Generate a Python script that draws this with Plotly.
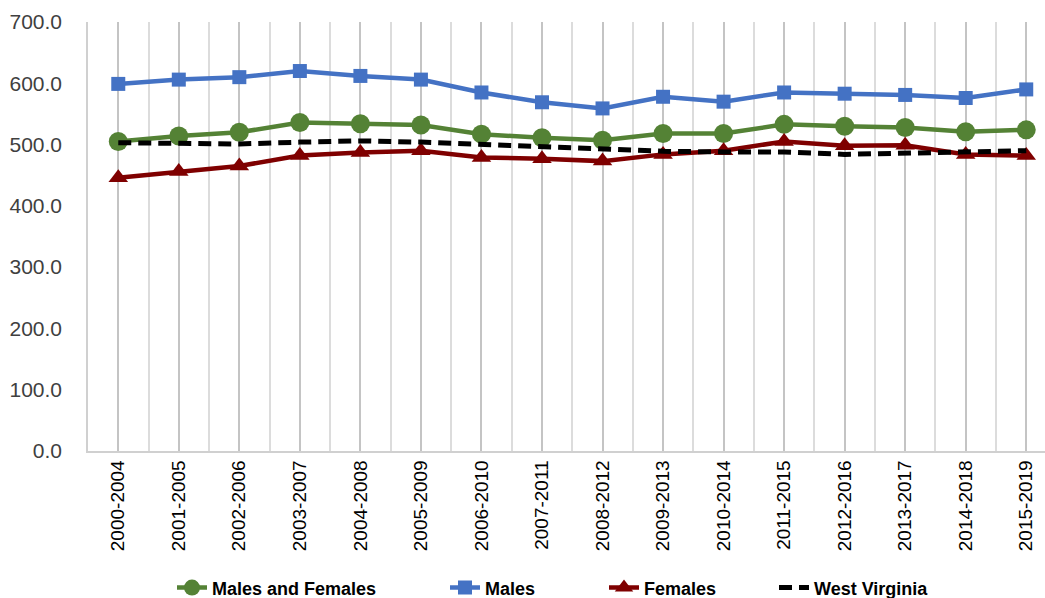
import plotly.graph_objects as go

periods = ["2000-2004", "2001-2005", "2002-2006", "2003-2007", "2004-2008", "2005-2009",
           "2006-2010", "2007-2011", "2008-2012", "2009-2013", "2010-2014", "2011-2015",
           "2012-2016", "2013-2017", "2014-2018", "2015-2019"]
males_and_females = [505, 514, 520, 536, 534, 532, 517, 511, 507, 518, 518, 533, 530, 528, 521, 524]
males = [599, 606, 610, 620, 612, 606, 585, 569, 559, 578, 570, 585, 583, 581, 576, 590]
females = [446, 456, 465, 482, 487, 490, 479, 477, 473, 484, 490, 505, 498, 499, 484, 482]
west_virginia = [503, 502, 501, 504, 506, 504, 500, 497, 492, 489, 488, 488, 484, 486, 489, 490]
y_ticks = [0, 100, 200, 300, 400, 500, 600, 700]

x = list(range(len(periods)))

fig = go.Figure()
fig.add_trace(go.Scatter(x=x, y=males_and_females, name="Males and Females", mode="lines+markers",
                         line=dict(color="#548235", width=4.5),
                         marker=dict(symbol="circle", size=19, color="#548235"), legend="legend"))
fig.add_trace(go.Scatter(x=x, y=males, name="Males", mode="lines+markers",
                         line=dict(color="#4472C4", width=4.5),
                         marker=dict(symbol="square", size=14, color="#4472C4"), legend="legend2"))
fig.add_trace(go.Scatter(x=x, y=females, name="Females", mode="lines+markers",
                         line=dict(color="#7F0000", width=4.5),
                         marker=dict(symbol="triangle-up", size=17, color="#7F0000"), legend="legend3"))
fig.add_trace(go.Scatter(x=x, y=west_virginia, name="West Virginia", mode="lines",
                         line=dict(color="#000000", width=5, dash="13px,7px"), legend="legend4"))

L, R = 88, 1045
def px(p):
    return (p - L) / (R - L)

legend_font = dict(size=18, family="Liberation Sans Narrow, Liberation Sans, Arial", color="#000000",
                   weight="bold")
def leg(p):
    return dict(orientation="h", x=px(p), xanchor="left", y=-0.319, yanchor="middle",
                font=legend_font, bgcolor="rgba(0,0,0,0)", itemwidth=30)

fig.update_layout(
    width=1045, height=598,
    margin=dict(l=L, r=0, t=22, b=147, autoexpand=False),
    paper_bgcolor="white", plot_bgcolor="white",
    font=dict(family="Liberation Sans, Arial, sans-serif", color="#262626"),
    showlegend=True,
    legend=leg(172), legend2=leg(445), legend3=leg(604), legend4=leg(774),
)
fig.update_xaxes(
    range=[-0.5, 15.31], tickvals=x, ticktext=periods, tickangle=-90,
    tickfont=dict(size=19, color="#000000"),
    showgrid=True, gridcolor="#c4c4c4", gridwidth=1.5,
    minor=dict(tick0=0.5, dtick=1, showgrid=True, gridcolor="#dcdcdc", gridwidth=1.5),
    showline=True, linecolor="#d0d0d0", linewidth=1.5,
    ticks="", zeroline=False, automargin=False,
)
fig.update_yaxes(
    range=[0, 700], tickvals=y_ticks, ticktext=[f"{v:.1f}" for v in y_ticks],
    tickfont=dict(size=21, color="#404040"),
    showgrid=False, zeroline=False,
    showline=True, linecolor="#d0d0d0", linewidth=1.5,
    ticks="", ticklabelstandoff=20, automargin=False,
)

fig.write_html("out.html", config={"displayModeBar": False},
               post_script="document.body.style.margin='0px';document.body.style.overflow='hidden';")
